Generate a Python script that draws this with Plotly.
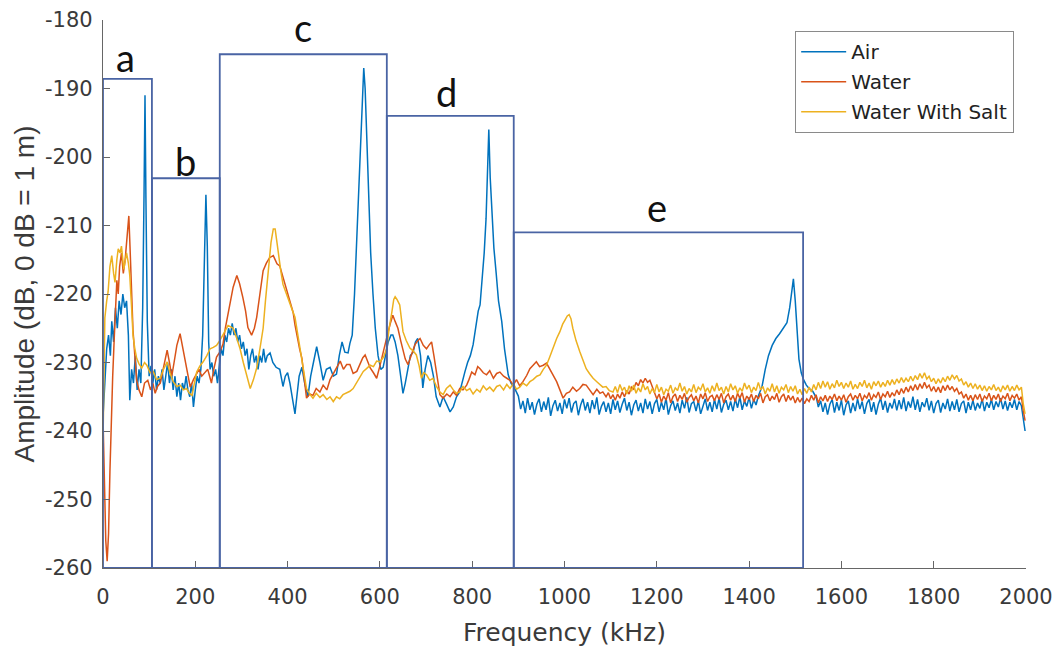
import plotly.graph_objects as go

# ---------------- data (frequency kHz, amplitude dB) ----------------
air = [
    (0, -238), (4, -232), (8, -228), (12, -226), (16, -229), (19, -224), (23, -227), (27, -222),
    (31, -225), (35, -221), (39, -223), (43, -220), (47, -222), (51, -221), (55, -226), (58, -235.5),
    (62, -231), (66, -233), (70, -229), (74, -234), (78, -231), (82, -233), (86, -222), (89, -205),
    (91, -191), (93, -206), (96, -224), (100, -232), (104, -230.5), (108, -233), (112, -231), (116, -234),
    (120, -232), (124, -233), (128, -231), (132, -234), (136, -232), (140, -230), (144, -233), (148, -231),
    (152, -234), (156, -232), (160, -235), (164, -233), (168, -235.5), (172, -233), (176, -234), (180, -232),
    (184, -234), (188, -235), (192, -233), (196, -236.5), (200, -234), (204, -232), (208, -233), (212, -231),
    (216, -226), (220, -212), (223, -205.5), (226, -213), (229, -227), (232, -231), (236, -230), (240, -232),
    (244, -231), (248, -233), (252, -230), (256, -228), (260, -229), (264, -226), (268, -227), (272, -225),
    (276, -226), (280, -224.3), (284, -226), (288, -225), (292, -227), (296, -226), (300, -228), (304, -227),
    (308, -229), (312, -228), (316, -231), (320, -229), (324, -228), (328, -230), (332, -229), (336, -231),
    (340, -229), (344, -230), (348, -228), (352, -230), (356, -229), (362, -228.6), (368, -230), (375, -230.7),
    (383, -231), (390, -233.5), (395, -232), (400, -231.5), (405, -233), (410, -235), (416, -237.5), (420, -235),
    (425, -232), (431, -230.7), (437, -233), (444, -235), (450, -232), (456, -230), (463, -227.7), (470, -230),
    (477, -232.6), (484, -231), (492, -230.7), (499, -232), (506, -231.7), (512, -229), (518, -227), (524, -228.5),
    (531, -228.6), (535, -227.2), (540, -226), (545, -220), (550, -212), (555, -203), (560, -194), (565, -187),
    (568, -190), (572, -199), (576, -207), (580, -214), (585, -220), (590, -225), (596, -229), (602, -231),
    (607, -230.7), (612, -229), (618, -227), (624, -226), (628, -226), (633, -227), (639, -229), (645, -232),
    (650, -234.5), (655, -233), (660, -231), (666, -229), (672, -228.5), (677, -227), (682, -226.5), (688, -229),
    (693, -233.7), (698, -231), (704, -229), (710, -230), (716, -232), (722, -235), (730, -236.5), (737, -235),
    (744, -236), (752, -237.2), (759, -236.5), (766, -235), (773, -234.3), (779, -232.5), (784, -231.4), (790, -230),
    (796, -229), (802, -227.4), (808, -225), (813, -222.5), (817, -221.6), (822, -218), (826, -214), (830, -209),
    (833, -203), (836, -196), (839, -203), (843, -209), (847, -213.3), (852, -217), (857, -221), (864, -224),
    (870, -228), (878, -231.8), (884, -233), (890, -233.5),
    (900, -234.9), (905, -236.8), (910, -235.6), (915, -237.4), (920, -235.2), (925, -236.9), (930, -235.8),
    (935, -237.6), (940, -236.1), (945, -235.3), (950, -237.2), (955, -235.7), (960, -236.9), (965, -235.1),
    (970, -237.8), (975, -236.3), (980, -235.5), (985, -237.1), (990, -235.9), (995, -237.5), (1000, -235.4),
    (1005, -236.7), (1010, -235.2), (1015, -237.3), (1020, -236.0), (1025, -235.6), (1030, -237.7), (1035, -236.2),
    (1040, -235.3), (1045, -237.0), (1050, -235.8), (1055, -237.4), (1060, -235.5), (1065, -236.8), (1070, -235.1),
    (1075, -237.6), (1080, -236.4), (1085, -235.7), (1090, -237.2), (1095, -235.9), (1100, -237.5), (1105, -235.4),
    (1110, -236.9), (1115, -235.6), (1120, -237.3), (1125, -236.1), (1130, -235.2), (1135, -237.0), (1140, -235.8),
    (1145, -237.7), (1150, -236.2), (1155, -235.5), (1160, -237.1), (1165, -235.9), (1170, -237.4), (1175, -235.3),
    (1180, -236.8), (1185, -235.7), (1190, -237.5), (1195, -236.0), (1200, -235.4), (1205, -237.2), (1210, -235.8),
    (1215, -236.9), (1220, -235.2), (1225, -237.6), (1230, -236.3), (1235, -235.6), (1240, -237.0), (1245, -235.9),
    (1250, -237.4), (1255, -235.5), (1260, -236.7), (1265, -235.1), (1270, -237.3), (1275, -236.0), (1280, -235.7),
    (1285, -237.1), (1290, -235.6), (1295, -237.5), (1300, -236.2), (1305, -235.3), (1310, -237.0), (1315, -235.8),
    (1320, -237.2), (1325, -235.4), (1330, -236.8), (1335, -235.2), (1340, -237.3), (1345, -236.1), (1350, -235.5),
    (1355, -236.9), (1360, -235.7), (1365, -237.1), (1370, -235.3), (1375, -236.6), (1380, -235.0), (1385, -236.9),
    (1390, -235.6), (1395, -236.4), (1400, -235.1), (1405, -236.7), (1410, -235.4), (1415, -236.2), (1420, -234.9),
    (1428, -233.5), (1435, -231), (1442, -229), (1450, -227.5), (1458, -226.5), (1466, -225.8), (1474, -225),
    (1482, -224.2), (1488, -222), (1492, -219.5), (1496, -217.8), (1500, -221), (1504, -226), (1508, -229.5),
    (1513, -231.5), (1518, -232.5), (1524, -233.3), (1530, -233.8), (1538, -234.2), (1546, -235.2), (1550, -236.5),
    (1555, -235.6), (1560, -237.2), (1565, -235.9), (1570, -237.6), (1575, -236.1), (1580, -235.4), (1585, -237.3),
    (1590, -235.8), (1595, -237.0), (1600, -235.5), (1605, -237.7), (1610, -236.2), (1615, -235.6), (1620, -237.4),
    (1625, -235.9), (1630, -237.1), (1635, -235.3), (1640, -236.8), (1645, -235.7), (1650, -237.5), (1655, -236.0),
    (1660, -235.4), (1665, -237.2), (1670, -235.8), (1675, -237.6), (1680, -236.1), (1685, -235.2), (1690, -236.9),
    (1695, -235.6), (1700, -237.3), (1705, -235.9), (1710, -236.7), (1715, -235.3), (1720, -237.0), (1725, -235.5),
    (1730, -236.8), (1735, -235.1), (1740, -237.1), (1745, -235.7), (1750, -236.6), (1755, -235.0), (1760, -236.9),
    (1765, -235.4), (1770, -237.2), (1775, -235.8), (1780, -236.5), (1785, -235.2), (1790, -237.0), (1795, -235.6),
    (1800, -237.4), (1805, -236.0), (1810, -235.5), (1815, -237.3), (1820, -235.9), (1825, -236.8), (1830, -235.3),
    (1835, -237.1), (1840, -235.7), (1845, -236.9), (1850, -235.4), (1855, -237.2), (1860, -236.0), (1865, -235.6),
    (1870, -237.4), (1875, -235.8), (1880, -236.9), (1885, -235.5), (1890, -237.0), (1895, -235.9), (1900, -236.7),
    (1905, -235.3), (1910, -237.1), (1915, -235.8), (1920, -236.6), (1925, -235.4), (1930, -236.9), (1935, -235.7),
    (1940, -236.5), (1945, -235.2), (1950, -236.8), (1955, -235.6), (1960, -237.0), (1965, -235.8), (1970, -236.6),
    (1975, -235.4), (1980, -236.9), (1985, -235.7), (1990, -236.3), (1994, -238.5), (1998, -240.0),
]

water = [
    (0, -238), (3, -248), (6, -256), (9, -259), (12, -255), (15, -246), (18, -238), (21, -232), (24, -227),
    (27, -221), (30, -218), (33, -220), (36, -216), (40, -214), (44, -217), (48, -215), (52, -212), (56, -208.6),
    (59, -214), (62, -221), (65, -225.3), (69, -229), (73, -232.6), (78, -234), (84, -235), (90, -233),
    (97, -232.6), (103, -234), (108, -233), (113, -234.5), (118, -233.5), (124, -233), (130, -231), (135, -229),
    (139, -228.2), (144, -230), (149, -232), (154, -230), (160, -227.5), (167, -225.8), (172, -227.5), (178, -229.7),
    (184, -232), (189, -233.6), (196, -232.5), (203, -231.6), (208, -231), (214, -232), (220, -231.5), (227, -231),
    (231, -232), (235, -233), (240, -231), (246, -229.2), (253, -228.5), (260, -227.3), (265, -225), (271, -222.9),
    (276, -221), (282, -219), (290, -217.3), (296, -218.5), (303, -220.5), (309, -222.5), (314, -224.9), (322, -226),
    (328, -225), (333, -223.4), (340, -220), (347, -216.6), (354, -215.5), (361, -214.7), (369, -214.4), (377, -215.6),
    (383, -215.9), (390, -217.5), (398, -219.3), (405, -221), (412, -222.7), (416, -224.5), (420, -226), (426, -228),
    (431, -229.4), (436, -232.5), (441, -235.2), (448, -234.6), (455, -234.8), (462, -233.8), (470, -234.3),
    (477, -233.3), (485, -234.0), (492, -232.5), (500, -231.5), (507, -230.5), (514, -229.8), (521, -231.0),
    (528, -230.3), (535, -230.3), (542, -231.6), (550, -231.3), (557, -230.2), (563, -229.3), (568, -228.9),
    (574, -230.0), (579, -230.8), (586, -231.5), (593, -232.3), (600, -230.5), (607, -228.4), (612, -227),
    (618, -225.5), (623, -224.2), (628, -223.1), (633, -224), (639, -225), (645, -226.8), (650, -228.4),
    (655, -229.5), (661, -230.3), (668, -228.8), (676, -227.4), (681, -226.9), (687, -226.5), (694, -227.5),
    (701, -228), (706, -227.5), (712, -227), (717, -229), (722, -231.3), (730, -234.7), (737, -235.2), (745, -234.6),
    (752, -235.0), (759, -234.3), (766, -234.8), (773, -233.8), (780, -234.0), (788, -233.3), (793, -232.5),
    (799, -231.4), (806, -231.8), (812, -230.6), (817, -230.9), (824, -231.5), (831, -231.8), (838, -231.2),
    (846, -232.3), (853, -231.6), (860, -231.4), (868, -232.0), (875, -232.3), (882, -232.6), (889, -233.3),
    (896, -232.5), (903, -233.4), (910, -232.8), (918, -231.9), (925, -230.9), (932, -230.4), (939, -229.9),
    (946, -230.6), (954, -230.4), (961, -230.1), (968, -230.9), (975, -231.8), (983, -232.8), (990, -234.0),
    (997, -235.2), (1004, -234.5), (1011, -234.3), (1018, -233.6), (1026, -234.2), (1033, -233.8), (1040, -233.2),
    (1047, -233.3), (1054, -234.0), (1062, -234.7), (1070, -233.9), (1077, -234.5), (1083, -234.3),
    (1090, -235.0), (1095, -234.4), (1100, -235.3), (1105, -234.7), (1110, -235.5), (1115, -234.6), (1120, -235.2),
    (1125, -234.3), (1130, -235.0), (1135, -234.1), (1140, -234.6), (1145, -233.6), (1150, -233.9), (1155, -232.9),
    (1160, -233.4), (1165, -232.5), (1170, -233.0), (1175, -232.3), (1180, -232.9), (1185, -232.6), (1190, -233.5),
    (1195, -234.2), (1200, -235.3), (1205, -234.6), (1210, -235.8), (1215, -234.9), (1220, -235.5), (1225, -234.4),
    (1230, -235.9), (1235, -235.0), (1240, -234.6), (1245, -235.7), (1250, -234.8), (1255, -235.4), (1260, -234.5),
    (1265, -235.8), (1270, -235.1), (1275, -234.7), (1280, -235.6), (1285, -234.9), (1290, -235.9), (1295, -234.6),
    (1300, -235.3), (1305, -234.4), (1310, -235.7), (1315, -235.0), (1320, -234.8), (1325, -235.6), (1330, -234.7),
    (1335, -235.4), (1340, -234.5), (1345, -235.9), (1350, -235.0), (1355, -234.6), (1360, -235.5), (1365, -234.8),
    (1370, -235.7), (1375, -234.5), (1380, -235.2), (1385, -234.4), (1390, -235.8), (1395, -234.9), (1400, -235.4),
    (1405, -234.6), (1410, -235.7), (1415, -234.8), (1420, -235.3), (1425, -234.5), (1430, -235.9), (1435, -235.0),
    (1440, -234.7), (1445, -235.6), (1450, -234.9), (1455, -235.4), (1460, -234.5), (1465, -235.8), (1470, -235.0),
    (1475, -234.6), (1480, -235.7), (1485, -234.8), (1490, -235.5), (1495, -234.9), (1500, -235.9), (1505, -235.1),
    (1510, -235.8), (1515, -235.2), (1520, -236.0), (1525, -235.3), (1530, -235.7), (1535, -234.8), (1540, -235.5),
    (1545, -234.7), (1550, -235.9), (1555, -235.0), (1560, -235.6), (1565, -234.8), (1570, -235.7), (1575, -234.9),
    (1580, -235.4), (1585, -234.6), (1590, -235.6), (1595, -234.9), (1600, -235.5), (1605, -234.7), (1610, -235.8),
    (1615, -235.0), (1620, -234.6), (1625, -235.5), (1630, -234.8), (1635, -235.3), (1640, -234.5), (1645, -235.6),
    (1650, -234.8), (1655, -235.2), (1660, -234.4), (1665, -235.5), (1670, -234.7), (1675, -235.1), (1680, -234.3),
    (1685, -235.4), (1690, -234.6), (1695, -235.0), (1700, -234.2), (1705, -235.1), (1710, -234.4), (1715, -234.9),
    (1720, -234.0), (1725, -234.7), (1730, -233.8), (1735, -234.5), (1740, -233.6), (1745, -234.3), (1750, -233.4),
    (1755, -234.1), (1760, -233.2), (1765, -234.0), (1770, -233.1), (1775, -233.8), (1780, -232.9), (1785, -233.7),
    (1790, -233.3), (1795, -234.2), (1800, -233.5), (1805, -234.3), (1810, -233.6), (1815, -234.4), (1820, -233.4),
    (1825, -234.1), (1830, -233.3), (1835, -234.0), (1840, -233.5), (1845, -234.2), (1850, -233.8), (1855, -234.6),
    (1860, -234.3), (1865, -235.2), (1870, -234.6), (1875, -235.5), (1880, -234.8), (1885, -235.6), (1890, -234.7),
    (1895, -235.4), (1900, -234.6), (1905, -235.7), (1910, -234.9), (1915, -235.3), (1920, -234.5), (1925, -235.6),
    (1930, -234.8), (1935, -235.4), (1940, -234.6), (1945, -235.7), (1950, -234.9), (1955, -235.3), (1960, -234.5),
    (1965, -235.6), (1970, -234.8), (1975, -235.2), (1980, -234.6), (1985, -235.5), (1990, -235.0), (1994, -237.0),
    (1998, -238.5),
]

water_salt = [
    (0, -241.8), (2, -232), (4, -223.5), (8, -221), (11, -219.7), (15, -216), (19, -214.4), (23, -217), (26, -218.3),
    (30, -215), (33, -213.4), (37, -214), (40, -213), (45, -216.4), (51, -214), (55, -215.5), (58, -217.3), (62, -222),
    (65, -226), (69, -228), (73, -229.4), (78, -230.2), (84, -230.8), (90, -230), (95, -230.4), (102, -231.5),
    (109, -231.3), (116, -232.5), (124, -232.3), (131, -231), (139, -229.9), (145, -231.5), (152, -232.8),
    (160, -233.5), (167, -233.3), (174, -234), (181, -233.8), (187, -234.5), (193, -234.8), (198, -233),
    (203, -231.4), (210, -230.5), (217, -229.9), (225, -229), (232, -228), (239, -227.8), (246, -227.5),
    (253, -226.8), (260, -226), (266, -225.3), (271, -224.6), (277, -224.8), (282, -225), (290, -226.5), (297, -228),
    (304, -230), (311, -231.8), (315, -233), (319, -233.8), (326, -232.5), (333, -230.8), (340, -228), (347, -225),
    (352, -221), (358, -216.3), (364, -212.5), (369, -210.5), (373, -210.5), (377, -212.5), (380, -214.2),
    (385, -216.5), (390, -218.6), (398, -220.2), (405, -221.5), (411, -222.5), (416, -223.4), (423, -226.5),
    (431, -229.9), (436, -232), (441, -233.8), (448, -234.6), (455, -235.2), (462, -234.5), (470, -235.1),
    (477, -234.7), (485, -235.4), (492, -235.0), (499, -235.7), (506, -235.0), (513, -235.3), (520, -234.7),
    (527, -234.5), (535, -234.2), (542, -233.8), (549, -233.0), (556, -232.2), (564, -231.3), (571, -230.9),
    (579, -230.4), (586, -230.6), (593, -229.8), (600, -229.9), (608, -229.2), (615, -227.9), (620, -225),
    (626, -222.6), (630, -220.8), (633, -220.4), (637, -220.8), (643, -221.6), (646, -223.5), (650, -225.5),
    (657, -226.8), (665, -227.9), (672, -228.3), (679, -228.9), (685, -230.5), (690, -232.3), (695, -231.5),
    (701, -231.8), (708, -232.6), (715, -232.3), (722, -233.4), (730, -234.3), (737, -234.7), (744, -233.8),
    (752, -233.3), (759, -234.0), (766, -234.5), (773, -234.3), (780, -233.5), (788, -234.1), (795, -233.8),
    (802, -234.6), (810, -233.9), (817, -234.3), (824, -233.4), (831, -234.0), (838, -233.6), (846, -234.2),
    (853, -233.5), (860, -233.3), (868, -234.0), (875, -233.2), (882, -233.8), (889, -233.1), (896, -233.9),
    (903, -233.6), (910, -233.0), (918, -233.4), (925, -232.8), (932, -232.5), (940, -232.0), (947, -231.8),
    (954, -231.0), (961, -230.4), (968, -229.2), (975, -227.9), (983, -226.5), (990, -225.5), (996, -224.4),
    (1001, -223.8), (1006, -223.2), (1010, -223.0), (1014, -223.6), (1018, -225), (1025, -226.8), (1033, -228.4),
    (1040, -229.8), (1047, -230.9), (1054, -231.6), (1062, -232.3), (1070, -232.8), (1077, -233.2), (1083, -233.6),
    (1090, -233.5), (1097, -234.1),
    (1105, -234.3), (1110, -233.5), (1115, -234.4), (1120, -233.2), (1125, -234.1), (1130, -233.6), (1135, -234.6),
    (1140, -233.4), (1145, -234.2), (1150, -233.3), (1155, -234.5), (1160, -233.7), (1165, -234.3), (1170, -233.1),
    (1175, -234.0), (1180, -233.5), (1185, -234.6), (1190, -233.8), (1195, -234.4), (1200, -233.2), (1205, -234.3),
    (1210, -233.6), (1215, -234.7), (1220, -233.9), (1225, -234.2), (1230, -233.3), (1235, -234.5), (1240, -233.7),
    (1245, -234.1), (1250, -233.0), (1255, -234.2), (1260, -233.5), (1265, -234.6), (1270, -233.8), (1275, -234.3),
    (1280, -233.2), (1285, -234.4), (1290, -233.6), (1295, -234.0), (1300, -233.1), (1305, -234.3), (1310, -233.7),
    (1315, -234.5), (1320, -233.4), (1325, -234.2), (1330, -233.0), (1335, -234.1), (1340, -233.6), (1345, -234.6),
    (1350, -233.5), (1355, -234.3), (1360, -233.1), (1365, -234.0), (1370, -233.4), (1375, -234.5), (1380, -233.7),
    (1385, -234.2), (1390, -233.0), (1395, -233.9), (1400, -233.3), (1405, -234.4), (1410, -233.6), (1415, -234.1),
    (1420, -232.9), (1425, -234.0), (1430, -233.5), (1435, -234.6), (1440, -233.7), (1445, -234.2), (1450, -233.1),
    (1455, -234.3), (1460, -233.4), (1465, -234.5), (1470, -233.6), (1475, -234.0), (1480, -233.2), (1485, -234.4),
    (1490, -233.5), (1495, -234.2), (1500, -233.4), (1505, -234.6), (1510, -233.9), (1515, -234.7), (1520, -233.8),
    (1525, -234.5), (1530, -233.6), (1535, -234.3), (1540, -233.2), (1545, -234.0), (1550, -232.9), (1555, -233.8),
    (1560, -232.7), (1565, -233.6), (1570, -232.8), (1575, -233.9), (1580, -233.1), (1585, -233.7), (1590, -232.6),
    (1595, -233.5), (1600, -232.9), (1605, -233.8), (1610, -233.0), (1615, -233.6), (1620, -232.7), (1625, -233.9),
    (1630, -233.2), (1635, -233.8), (1640, -232.9), (1645, -233.5), (1650, -232.6), (1655, -233.7), (1660, -233.0),
    (1665, -233.9), (1670, -232.8), (1675, -233.4), (1680, -232.7), (1685, -233.6), (1690, -232.9), (1695, -233.5),
    (1700, -232.6), (1705, -233.3), (1710, -232.5), (1715, -233.2), (1720, -232.4), (1725, -233.0), (1730, -232.2),
    (1735, -232.9), (1740, -232.3), (1745, -232.8), (1750, -232.0), (1755, -232.7), (1760, -231.9), (1765, -232.5),
    (1770, -231.6), (1775, -232.3), (1780, -231.5), (1785, -232.4), (1790, -232.0), (1795, -232.8), (1800, -232.3),
    (1805, -233.1), (1810, -232.4), (1815, -233.0), (1820, -232.2), (1825, -232.8), (1830, -232.0), (1835, -232.6),
    (1840, -231.8), (1845, -232.4), (1850, -231.9), (1855, -232.7), (1860, -232.4), (1865, -233.3), (1870, -232.8),
    (1875, -233.6), (1880, -233.0), (1885, -233.8), (1890, -233.1), (1895, -233.9), (1900, -233.3), (1905, -234.1),
    (1910, -233.4), (1915, -234.2), (1920, -233.5), (1925, -234.0), (1930, -233.2), (1935, -234.1), (1940, -233.6),
    (1945, -234.3), (1950, -233.4), (1955, -234.0), (1960, -233.3), (1965, -234.2), (1970, -233.5), (1975, -234.1),
    (1980, -233.3), (1985, -234.0), (1990, -233.6), (1994, -236.0), (1998, -237.5),
]

series_names = ["Air", "Water", "Water With Salt"]
series_colors = ["#0072BD", "#D95319", "#EDB120"]

# bracket boxes a-e (kHz, dB)
box_labels = ["a", "b", "c", "d", "e"]
box_left = [0, 106, 253, 615, 890]
box_right = [106, 253, 615, 890, 1517]
box_top = [-188.6, -203.1, -185.0, -194.0, -211.0]
box_bottom = -260
label_x = [48, 178, 434, 745, 1201]
label_y = [-189.0, -204.3, -184.7, -194.2, -210.9]

x_ticks = [0, 200, 400, 600, 800, 1000, 1200, 1400, 1600, 1800, 2000]
y_ticks = [-260, -250, -240, -230, -220, -210, -200, -190, -180]

# ---------------- figure ----------------
fig = go.Figure()
for i, (name, pts) in enumerate(zip(series_names, [air, water, water_salt])):
    fig.add_trace(go.Scatter(
        x=[p[0] for p in pts], y=[p[1] for p in pts], mode="lines", name=name,
        legendgroup=name,
        line=dict(color=series_colors[i], width=1.5),
    ))

box_color = "#4a64a4"
for x0, x1, top in zip(box_left, box_right, box_top):
    fig.add_shape(type="rect", xref="x", yref="y", x0=x0, x1=x1, y0=box_bottom, y1=top,
                  line=dict(color=box_color, width=1.8), fillcolor="rgba(0,0,0,0)", layer="above")
for lab, lx, ly in zip(box_labels, label_x, label_y):
    fig.add_annotation(x=lx, y=ly, xref="x", yref="y", text=lab, showarrow=False,
                       yanchor="bottom", font=dict(family="Lato", size=38, color="#111111"))

axis_font = dict(family="DejaVu Sans", size=21, color="#3a3a3a")
title_color = "#3a3a3a"
fig.update_layout(
    width=1058, height=647,
    margin=dict(l=103, r=32, t=20, b=79),
    paper_bgcolor="white", plot_bgcolor="white",
    showlegend=True,
    legend=dict(
        x=0.7497, y=0.98, xanchor="left", yanchor="top",
        bgcolor="white", bordercolor="#8a8a8a", borderwidth=1.2,
        font=dict(family="DejaVu Sans", size=20, color="#222222"),
        tracegroupgap=1, itemwidth=45,
    ),
    xaxis=dict(
        range=[0, 2000], tickvals=x_ticks, ticktext=[str(v) for v in x_ticks],
        ticks="inside", ticklen=7, tickcolor="#666", ticklabelstandoff=10,
        showline=True, linecolor="#666", linewidth=1.2, showgrid=False, zeroline=False,
        tickfont=axis_font, automargin=False,
        title=dict(text="Frequency (kHz)", font=dict(family="DejaVu Sans", size=25, color=title_color),
                   standoff=15),
    ),
    yaxis=dict(
        range=[-260, -180], tickvals=y_ticks, ticktext=[str(v) for v in y_ticks],
        ticks="inside", ticklen=7, tickcolor="#666", ticklabelstandoff=5,
        showline=True, linecolor="#666", linewidth=1.2, showgrid=False, zeroline=False,
        tickfont=axis_font, automargin=False,
        title=dict(text="Amplitude (dB, 0 dB = 1 m)",
                   font=dict(family="Liberation Sans", size=28, color=title_color),
                   standoff=2),
    ),
)

fig.write_html("out.html", config={"displayModeBar": False},
               post_script="document.body.style.margin='0';document.body.style.padding='0';")
